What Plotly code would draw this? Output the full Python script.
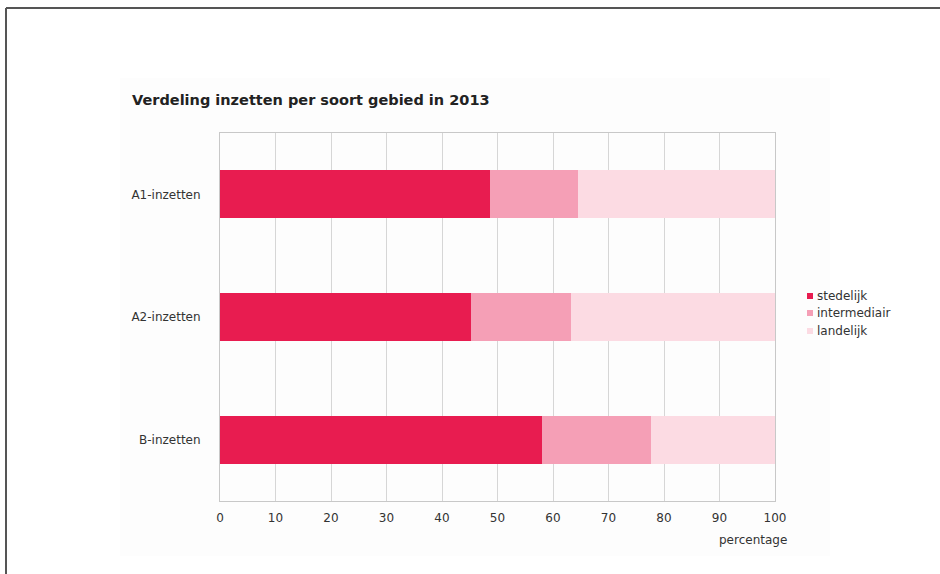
import plotly.graph_objects as go

# Share of deployments (inzetten) per area type, 2013, in percent
categories = ["A1-inzetten", "A2-inzetten", "B-inzetten"]
series_names = ["stedelijk", "intermediair", "landelijk"]
stedelijk = [48.6, 45.2, 58.0]
intermediair = [15.9, 18.0, 19.7]
landelijk = [35.5, 36.8, 22.3]
series_values = [stedelijk, intermediair, landelijk]
series_colors = ["#e81c50", "#f59fb6", "#fcdbe3"]
x_ticks = list(range(0, 101, 10))

FONT = "DejaVu Sans"
TEXT = "#333333"
FS = 12

# pixel frame of the plotting area inside the 940x574 page
W, H = 940, 574
L, R, T, B = 220, 775, 133, 501


def px(x):
    return (x - L) / (R - L)


def py(y):
    return (B - y) / (B - T)


fig = go.Figure()
for name, vals, col in zip(series_names, series_values, series_colors):
    fig.add_trace(go.Bar(
        y=categories, x=vals, name=name, orientation="h",
        marker=dict(color=col, line=dict(width=0)),
        width=0.39, showlegend=False,
    ))

shapes = [
    # light panel behind the whole chart
    dict(type="rect", xref="paper", yref="paper", layer="below",
         x0=px(120), x1=px(830), y0=py(556), y1=py(78),
         fillcolor="#fdfdfd", line=dict(width=0)),
    # page frame (top and left edges)
    dict(type="line", xref="paper", yref="paper",
         x0=px(6), x1=px(W + 5), y0=py(8), y1=py(8),
         line=dict(color="#555555", width=2)),
    dict(type="line", xref="paper", yref="paper",
         x0=px(6), x1=px(6), y0=py(8), y1=py(H + 5),
         line=dict(color="#555555", width=2)),
]

annotations = [
    dict(text="<b>Verdeling inzetten per soort gebied in 2013</b>",
         xref="paper", yref="paper", x=px(130), y=py(100),
         xanchor="left", yanchor="middle", showarrow=False,
         font=dict(family=FONT, size=14.5, color="#222222")),
    dict(text="percentage", xref="paper", yref="paper",
         x=px(789), y=py(540), xanchor="right", yanchor="middle",
         showarrow=False, font=dict(family=FONT, size=FS, color=TEXT)),
]

# legend: small square swatch + label
legend_y = [296, 313, 331]
for name, col, ly in zip(series_names, series_colors, legend_y):
    shapes.append(dict(type="rect", xref="paper", yref="paper",
                       x0=px(807), x1=px(813), y0=py(ly + 3), y1=py(ly - 3),
                       fillcolor=col, line=dict(width=0)))
    annotations.append(dict(text=name, xref="paper", yref="paper",
                            x=px(815), y=py(ly), xanchor="left",
                            yanchor="middle", showarrow=False,
                            font=dict(family=FONT, size=FS, color=TEXT)))

fig.update_layout(
    width=W, height=H,
    margin=dict(l=L, r=W - R, t=T, b=H - B, pad=0),
    barmode="stack",
    paper_bgcolor="#ffffff",
    plot_bgcolor="#ffffff",
    shapes=shapes,
    annotations=annotations,
    font=dict(family=FONT, size=FS, color=TEXT),
    xaxis=dict(
        range=[0, 100], tickvals=x_ticks, ticktext=[str(v) for v in x_ticks],
        showgrid=True, gridcolor="#d6d6d6", gridwidth=1,
        showline=True, linecolor="#c8c8c8", linewidth=1, mirror=True,
        zeroline=False, ticks="", ticklabelstandoff=6,
        tickfont=dict(family=FONT, size=FS, color=TEXT),
    ),
    yaxis=dict(
        categoryorder="array", categoryarray=categories,
        autorange="reversed",
        showgrid=False, showline=True, linecolor="#c8c8c8", mirror=True,
        zeroline=False, ticks="", ticklabelstandoff=16,
        tickfont=dict(family=FONT, size=FS, color=TEXT),
    ),
)

fig.write_html("out.html")
